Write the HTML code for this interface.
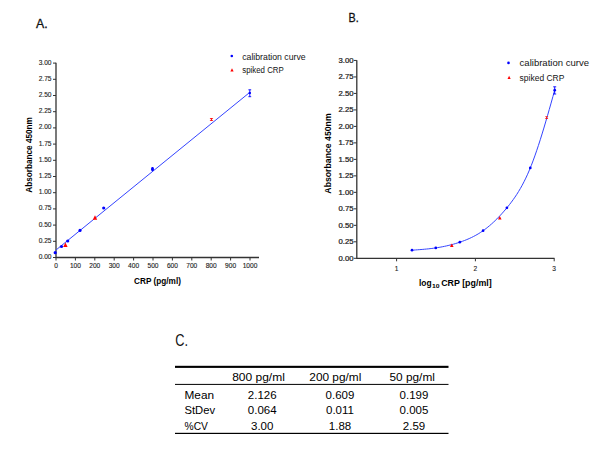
<!DOCTYPE html>
<html><head><meta charset="utf-8"><style>
html,body{margin:0;padding:0;background:#fff;width:612px;height:450px;overflow:hidden}
svg{display:block;font-family:"Liberation Sans", sans-serif}
</style></head><body>
<svg width="612" height="450" viewBox="0 0 612 450">
<path d="M56.0 62.800000000000026 V257.5 H259" stroke="#333" stroke-width="1.3" fill="none"/>
<path d="M53.0 257.50H56.0M53.0 241.30H56.0M53.0 225.10H56.0M53.0 208.90H56.0M53.0 192.70H56.0M53.0 176.50H56.0M53.0 160.30H56.0M53.0 144.10H56.0M53.0 127.90H56.0M53.0 111.70H56.0M53.0 95.50H56.0M53.0 79.30H56.0M53.0 63.10H56.0M56.00 257.5V260.5M75.40 257.5V260.5M94.80 257.5V260.5M114.20 257.5V260.5M133.60 257.5V260.5M153.00 257.5V260.5M172.40 257.5V260.5M191.80 257.5V260.5M211.20 257.5V260.5M230.60 257.5V260.5M250.00 257.5V260.5" stroke="#333" stroke-width="1" fill="none"/>
<text x="51.5" y="259.0" font-size="6.6" text-anchor="end" font-weight="normal" fill="#222" stroke="#222" stroke-width="0.12">0.00</text>
<text x="51.5" y="242.8" font-size="6.6" text-anchor="end" font-weight="normal" fill="#222" stroke="#222" stroke-width="0.12">0.25</text>
<text x="51.5" y="226.6" font-size="6.6" text-anchor="end" font-weight="normal" fill="#222" stroke="#222" stroke-width="0.12">0.50</text>
<text x="51.5" y="210.4" font-size="6.6" text-anchor="end" font-weight="normal" fill="#222" stroke="#222" stroke-width="0.12">0.75</text>
<text x="51.5" y="194.2" font-size="6.6" text-anchor="end" font-weight="normal" fill="#222" stroke="#222" stroke-width="0.12">1.00</text>
<text x="51.5" y="178.0" font-size="6.6" text-anchor="end" font-weight="normal" fill="#222" stroke="#222" stroke-width="0.12">1.25</text>
<text x="51.5" y="161.8" font-size="6.6" text-anchor="end" font-weight="normal" fill="#222" stroke="#222" stroke-width="0.12">1.50</text>
<text x="51.5" y="145.60000000000002" font-size="6.6" text-anchor="end" font-weight="normal" fill="#222" stroke="#222" stroke-width="0.12">1.75</text>
<text x="51.5" y="129.4" font-size="6.6" text-anchor="end" font-weight="normal" fill="#222" stroke="#222" stroke-width="0.12">2.00</text>
<text x="51.5" y="113.20000000000002" font-size="6.6" text-anchor="end" font-weight="normal" fill="#222" stroke="#222" stroke-width="0.12">2.25</text>
<text x="51.5" y="97.0" font-size="6.6" text-anchor="end" font-weight="normal" fill="#222" stroke="#222" stroke-width="0.12">2.50</text>
<text x="51.5" y="80.80000000000001" font-size="6.6" text-anchor="end" font-weight="normal" fill="#222" stroke="#222" stroke-width="0.12">2.75</text>
<text x="51.5" y="64.60000000000002" font-size="6.6" text-anchor="end" font-weight="normal" fill="#222" stroke="#222" stroke-width="0.12">3.00</text>
<text x="56.0" y="267.6" font-size="6.6" text-anchor="middle" font-weight="normal" fill="#222" stroke="#222" stroke-width="0.12">0</text>
<text x="75.4" y="267.6" font-size="6.6" text-anchor="middle" font-weight="normal" fill="#222" stroke="#222" stroke-width="0.12">100</text>
<text x="94.80000000000001" y="267.6" font-size="6.6" text-anchor="middle" font-weight="normal" fill="#222" stroke="#222" stroke-width="0.12">200</text>
<text x="114.2" y="267.6" font-size="6.6" text-anchor="middle" font-weight="normal" fill="#222" stroke="#222" stroke-width="0.12">300</text>
<text x="133.60000000000002" y="267.6" font-size="6.6" text-anchor="middle" font-weight="normal" fill="#222" stroke="#222" stroke-width="0.12">400</text>
<text x="153.0" y="267.6" font-size="6.6" text-anchor="middle" font-weight="normal" fill="#222" stroke="#222" stroke-width="0.12">500</text>
<text x="172.4" y="267.6" font-size="6.6" text-anchor="middle" font-weight="normal" fill="#222" stroke="#222" stroke-width="0.12">600</text>
<text x="191.8" y="267.6" font-size="6.6" text-anchor="middle" font-weight="normal" fill="#222" stroke="#222" stroke-width="0.12">700</text>
<text x="211.20000000000002" y="267.6" font-size="6.6" text-anchor="middle" font-weight="normal" fill="#222" stroke="#222" stroke-width="0.12">800</text>
<text x="230.6" y="267.6" font-size="6.6" text-anchor="middle" font-weight="normal" fill="#222" stroke="#222" stroke-width="0.12">900</text>
<text x="250.0" y="267.6" font-size="6.6" text-anchor="middle" font-weight="normal" fill="#222" stroke="#222" stroke-width="0.12">1000</text>
<text x="157.5" y="283.6" font-size="8.5" text-anchor="middle" font-weight="bold" fill="#000" textLength="46.8" lengthAdjust="spacingAndGlyphs" >CRP (pg/ml)</text>
<text transform="translate(32.2,154.9) rotate(-90)" x="0" y="0" font-size="8.3" text-anchor="middle" font-weight="bold" textLength="75.5" lengthAdjust="spacingAndGlyphs">Absorbance 450nm</text>
<line x1="56" y1="250" x2="249.6" y2="92.5" stroke="#3444ff" stroke-width="1.0"/>
<circle cx="55.2" cy="252.7" r="1.6" fill="#0000ff"/>
<circle cx="61.5" cy="246.5" r="1.6" fill="#0000ff"/>
<circle cx="67.7" cy="241" r="1.6" fill="#0000ff"/>
<circle cx="80" cy="230.4" r="1.6" fill="#0000ff"/>
<circle cx="103.7" cy="208" r="1.6" fill="#0000ff"/>
<circle cx="152.5" cy="169.1" r="1.6" fill="#0000ff"/>
<circle cx="249.8" cy="92.9" r="1.2" fill="#0000ff"/>
<path d="M248.4 89.8H251.20000000000002M249.8 89.8V96.7M248.4 96.7H251.20000000000002" stroke="#0000ff" stroke-width="0.9" fill="none"/>
<path d="M151.5 167.5H153.5M152.5 167.5V170.5M151.5 170.5H153.5" stroke="#0000ff" stroke-width="0.9" fill="none"/>
<path d="M63.2 246.88L65.4 242.48000000000002L67.60000000000001 246.88Z" fill="#ff0000"/>
<path d="M92.8 219.67999999999998L95 215.28L97.2 219.67999999999998Z" fill="#ff0000"/>
<path d="M209.6 118.1H213.3L211.8 119.5L213.3 120.9H209.6L211.1 119.5Z" fill="#ff1010"/>
<circle cx="231.8" cy="56" r="1.3" fill="#0000ff"/>
<text x="242.2" y="59.8" font-size="8.4" text-anchor="start" font-weight="normal" fill="#141414" textLength="63.5" lengthAdjust="spacingAndGlyphs" >calibration curve</text>
<path d="M230.4 71.44L232 68.24L233.6 71.44Z" fill="#ff0000"/>
<text x="242.2" y="73" font-size="8.4" text-anchor="start" font-weight="normal" fill="#141414" textLength="41.6" lengthAdjust="spacingAndGlyphs" >spiked CRP</text>
<path d="M356.8 60.14999999999999 V258.3 H554.5" stroke="#333" stroke-width="1.3" fill="none"/>
<path d="M353.8 258.30H356.8M353.8 241.81H356.8M353.8 225.33H356.8M353.8 208.84H356.8M353.8 192.35H356.8M353.8 175.86H356.8M353.8 159.38H356.8M353.8 142.89H356.8M353.8 126.40H356.8M353.8 109.91H356.8M353.8 93.43H356.8M353.8 76.94H356.8M353.8 60.45H356.8M396.60 258.3V261.3M475.40 258.3V261.3M554.20 258.3V261.3" stroke="#333" stroke-width="1" fill="none"/>
<text x="353.5" y="260.5" font-size="6.8" text-anchor="end" font-weight="normal" fill="#222" textLength="15" lengthAdjust="spacingAndGlyphs" stroke="#222" stroke-width="0.22">0.00</text>
<text x="353.5" y="244.0125" font-size="6.8" text-anchor="end" font-weight="normal" fill="#222" textLength="15" lengthAdjust="spacingAndGlyphs" stroke="#222" stroke-width="0.22">0.25</text>
<text x="353.5" y="227.525" font-size="6.8" text-anchor="end" font-weight="normal" fill="#222" textLength="15" lengthAdjust="spacingAndGlyphs" stroke="#222" stroke-width="0.22">0.50</text>
<text x="353.5" y="211.0375" font-size="6.8" text-anchor="end" font-weight="normal" fill="#222" textLength="15" lengthAdjust="spacingAndGlyphs" stroke="#222" stroke-width="0.22">0.75</text>
<text x="353.5" y="194.55" font-size="6.8" text-anchor="end" font-weight="normal" fill="#222" textLength="15" lengthAdjust="spacingAndGlyphs" stroke="#222" stroke-width="0.22">1.00</text>
<text x="353.5" y="178.0625" font-size="6.8" text-anchor="end" font-weight="normal" fill="#222" textLength="15" lengthAdjust="spacingAndGlyphs" stroke="#222" stroke-width="0.22">1.25</text>
<text x="353.5" y="161.575" font-size="6.8" text-anchor="end" font-weight="normal" fill="#222" textLength="15" lengthAdjust="spacingAndGlyphs" stroke="#222" stroke-width="0.22">1.50</text>
<text x="353.5" y="145.08749999999998" font-size="6.8" text-anchor="end" font-weight="normal" fill="#222" textLength="15" lengthAdjust="spacingAndGlyphs" stroke="#222" stroke-width="0.22">1.75</text>
<text x="353.5" y="128.6" font-size="6.8" text-anchor="end" font-weight="normal" fill="#222" textLength="15" lengthAdjust="spacingAndGlyphs" stroke="#222" stroke-width="0.22">2.00</text>
<text x="353.5" y="112.1125" font-size="6.8" text-anchor="end" font-weight="normal" fill="#222" textLength="15" lengthAdjust="spacingAndGlyphs" stroke="#222" stroke-width="0.22">2.25</text>
<text x="353.5" y="95.62500000000001" font-size="6.8" text-anchor="end" font-weight="normal" fill="#222" textLength="15" lengthAdjust="spacingAndGlyphs" stroke="#222" stroke-width="0.22">2.50</text>
<text x="353.5" y="79.1375" font-size="6.8" text-anchor="end" font-weight="normal" fill="#222" textLength="15" lengthAdjust="spacingAndGlyphs" stroke="#222" stroke-width="0.22">2.75</text>
<text x="353.5" y="62.64999999999999" font-size="6.8" text-anchor="end" font-weight="normal" fill="#222" textLength="15" lengthAdjust="spacingAndGlyphs" stroke="#222" stroke-width="0.22">3.00</text>
<text x="396.6" y="270.8" font-size="6.6" text-anchor="middle" font-weight="normal" fill="#222" stroke="#222" stroke-width="0.12">1</text>
<text x="475.40000000000003" y="270.8" font-size="6.6" text-anchor="middle" font-weight="normal" fill="#222" stroke="#222" stroke-width="0.12">2</text>
<text x="554.2" y="270.8" font-size="6.6" text-anchor="middle" font-weight="normal" fill="#222" stroke="#222" stroke-width="0.12">3</text>
<text x="419.0" y="285.9" font-size="8.7" text-anchor="start" font-weight="bold" fill="#000" textLength="12.6" lengthAdjust="spacingAndGlyphs" >log</text>
<text x="432.0" y="288.4" font-size="6.2" text-anchor="start" font-weight="bold" fill="#000" textLength="7.6" lengthAdjust="spacingAndGlyphs" >10</text>
<text x="441.2" y="285.9" font-size="8.7" text-anchor="start" font-weight="bold" fill="#000" textLength="50.5" lengthAdjust="spacingAndGlyphs" >CRP [pg/ml]</text>
<text transform="translate(331.4,153.5) rotate(-90)" x="0" y="0" font-size="9" text-anchor="middle" font-weight="bold" textLength="80.3" lengthAdjust="spacingAndGlyphs">Absorbance 450nm</text>
<path d="M412.00 250.20 L413.81 250.07 L415.61 249.94 L417.42 249.81 L419.23 249.67 L421.03 249.53 L422.84 249.38 L424.64 249.21 L426.45 249.04 L428.26 248.86 L430.06 248.65 L431.87 248.44 L433.68 248.20 L435.48 247.95 L437.29 247.67 L439.09 247.37 L440.90 247.05 L442.71 246.71 L444.51 246.34 L446.32 245.95 L448.13 245.53 L449.93 245.09 L451.74 244.62 L453.55 244.13 L455.35 243.61 L457.16 243.06 L458.96 242.48 L460.77 241.87 L462.58 241.23 L464.38 240.56 L466.19 239.84 L468.00 239.09 L469.80 238.29 L471.61 237.44 L473.42 236.54 L475.22 235.59 L477.03 234.58 L478.83 233.50 L480.64 232.36 L482.45 231.15 L484.25 229.87 L486.06 228.52 L487.87 227.09 L489.67 225.60 L491.48 224.03 L493.28 222.39 L495.09 220.68 L496.90 218.90 L498.70 217.05 L500.51 215.13 L502.32 213.14 L504.12 211.09 L505.93 208.97 L507.74 206.78 L509.54 204.52 L511.35 202.17 L513.15 199.71 L514.96 197.13 L516.77 194.40 L518.57 191.53 L520.38 188.47 L522.19 185.23 L523.99 181.79 L525.80 178.12 L527.61 174.21 L529.41 170.05 L531.22 165.61 L533.02 160.91 L534.83 155.95 L536.64 150.76 L538.44 145.36 L540.25 139.76 L542.06 133.98 L543.86 128.04 L545.67 121.96 L547.47 115.76 L549.28 109.46 L551.09 103.08 L552.89 96.65 L554.70 90.20" stroke="#3444ff" stroke-width="1.0" fill="none"/>
<circle cx="412" cy="250.2" r="1.35" fill="#0000ff"/>
<circle cx="435.8" cy="247.9" r="1.35" fill="#0000ff"/>
<circle cx="459.8" cy="242.2" r="1.35" fill="#0000ff"/>
<circle cx="483.1" cy="230.7" r="1.35" fill="#0000ff"/>
<circle cx="506.9" cy="207.8" r="1.35" fill="#0000ff"/>
<circle cx="530.3" cy="167.9" r="1.35" fill="#0000ff"/>
<circle cx="554.7" cy="90.2" r="1.35" fill="#0000ff"/>
<path d="M450.0 247.02L451.8 243.42000000000002L453.6 247.02Z" fill="#ff0000"/>
<path d="M498.0 219.62L499.8 216.02L501.6 219.62Z" fill="#ff0000"/>
<path d="M544.9 116.2H548.4L546.9 117.6L548.4 119.0H544.9L546.4 117.6Z" fill="#ff1010"/>
<path d="M553.2 86.8H556.2M554.7 86.8V94M553.2 94H556.2" stroke="#0000ff" stroke-width="0.9" fill="none"/>
<circle cx="508.5" cy="62.9" r="1.3" fill="#0000ff"/>
<text x="519.6" y="66.2" font-size="8.4" text-anchor="start" font-weight="normal" fill="#141414" textLength="69.4" lengthAdjust="spacingAndGlyphs" >calibration curve</text>
<path d="M507.5 79.03999999999999L509.1 75.83999999999999L510.70000000000005 79.03999999999999Z" fill="#ff0000"/>
<text x="519.6" y="80.9" font-size="8.4" text-anchor="start" font-weight="normal" fill="#141414" textLength="44.8" lengthAdjust="spacingAndGlyphs" >spiked CRP</text>
<text x="36" y="28" font-size="12.3" text-anchor="start" font-weight="normal" fill="#111" stroke="#111" stroke-width="0.3">A.</text>
<text x="348.5" y="21.6" font-size="12.3" text-anchor="start" font-weight="normal" fill="#111" textLength="10.2" lengthAdjust="spacingAndGlyphs" stroke="#111" stroke-width="0.3">B.</text>
<text transform="translate(175.2,345.9) scale(1,1.07)" x="0" y="0" font-size="15.3" fill="#111" textLength="12.8" lengthAdjust="spacingAndGlyphs">C.</text>
<rect x="175" y="365.8" width="273.5" height="2.1" fill="#000"/>
<rect x="175" y="383.9" width="273.5" height="1" fill="#000"/>
<rect x="175" y="432.8" width="273.5" height="1.2" fill="#000"/>
<text x="258.5" y="381.2" font-size="11.5" text-anchor="middle" font-weight="normal" fill="#000" textLength="52.7" lengthAdjust="spacingAndGlyphs" >800 pg/ml</text>
<text x="335.3" y="381.2" font-size="11.5" text-anchor="middle" font-weight="normal" fill="#000" textLength="52" lengthAdjust="spacingAndGlyphs" >200 pg/ml</text>
<text x="412.2" y="381.2" font-size="11.5" text-anchor="middle" font-weight="normal" fill="#000" textLength="45.3" lengthAdjust="spacingAndGlyphs" >50 pg/ml</text>
<text x="184.5" y="399.1" font-size="11.5" text-anchor="start" font-weight="normal" fill="#000" textLength="29.6" lengthAdjust="spacingAndGlyphs" >Mean</text>
<text x="262.2" y="399.1" font-size="11.5" text-anchor="middle" font-weight="normal" fill="#000" >2.126</text>
<text x="340.0" y="399.1" font-size="11.5" text-anchor="middle" font-weight="normal" fill="#000" >0.609</text>
<text x="414.0" y="399.1" font-size="11.5" text-anchor="middle" font-weight="normal" fill="#000" >0.199</text>
<text x="184.5" y="414.40000000000003" font-size="11.5" text-anchor="start" font-weight="normal" fill="#000" textLength="30.6" lengthAdjust="spacingAndGlyphs" >StDev</text>
<text x="262.2" y="414.40000000000003" font-size="11.5" text-anchor="middle" font-weight="normal" fill="#000" >0.064</text>
<text x="340.0" y="414.40000000000003" font-size="11.5" text-anchor="middle" font-weight="normal" fill="#000" >0.011</text>
<text x="414.0" y="414.40000000000003" font-size="11.5" text-anchor="middle" font-weight="normal" fill="#000" >0.005</text>
<text x="184.5" y="429.70000000000005" font-size="11.5" text-anchor="start" font-weight="normal" fill="#000" textLength="23.4" lengthAdjust="spacingAndGlyphs" >%CV</text>
<text x="262.2" y="429.70000000000005" font-size="11.5" text-anchor="middle" font-weight="normal" fill="#000" >3.00</text>
<text x="340.0" y="429.70000000000005" font-size="11.5" text-anchor="middle" font-weight="normal" fill="#000" >1.88</text>
<text x="414.0" y="429.70000000000005" font-size="11.5" text-anchor="middle" font-weight="normal" fill="#000" >2.59</text>
</svg></body></html>
